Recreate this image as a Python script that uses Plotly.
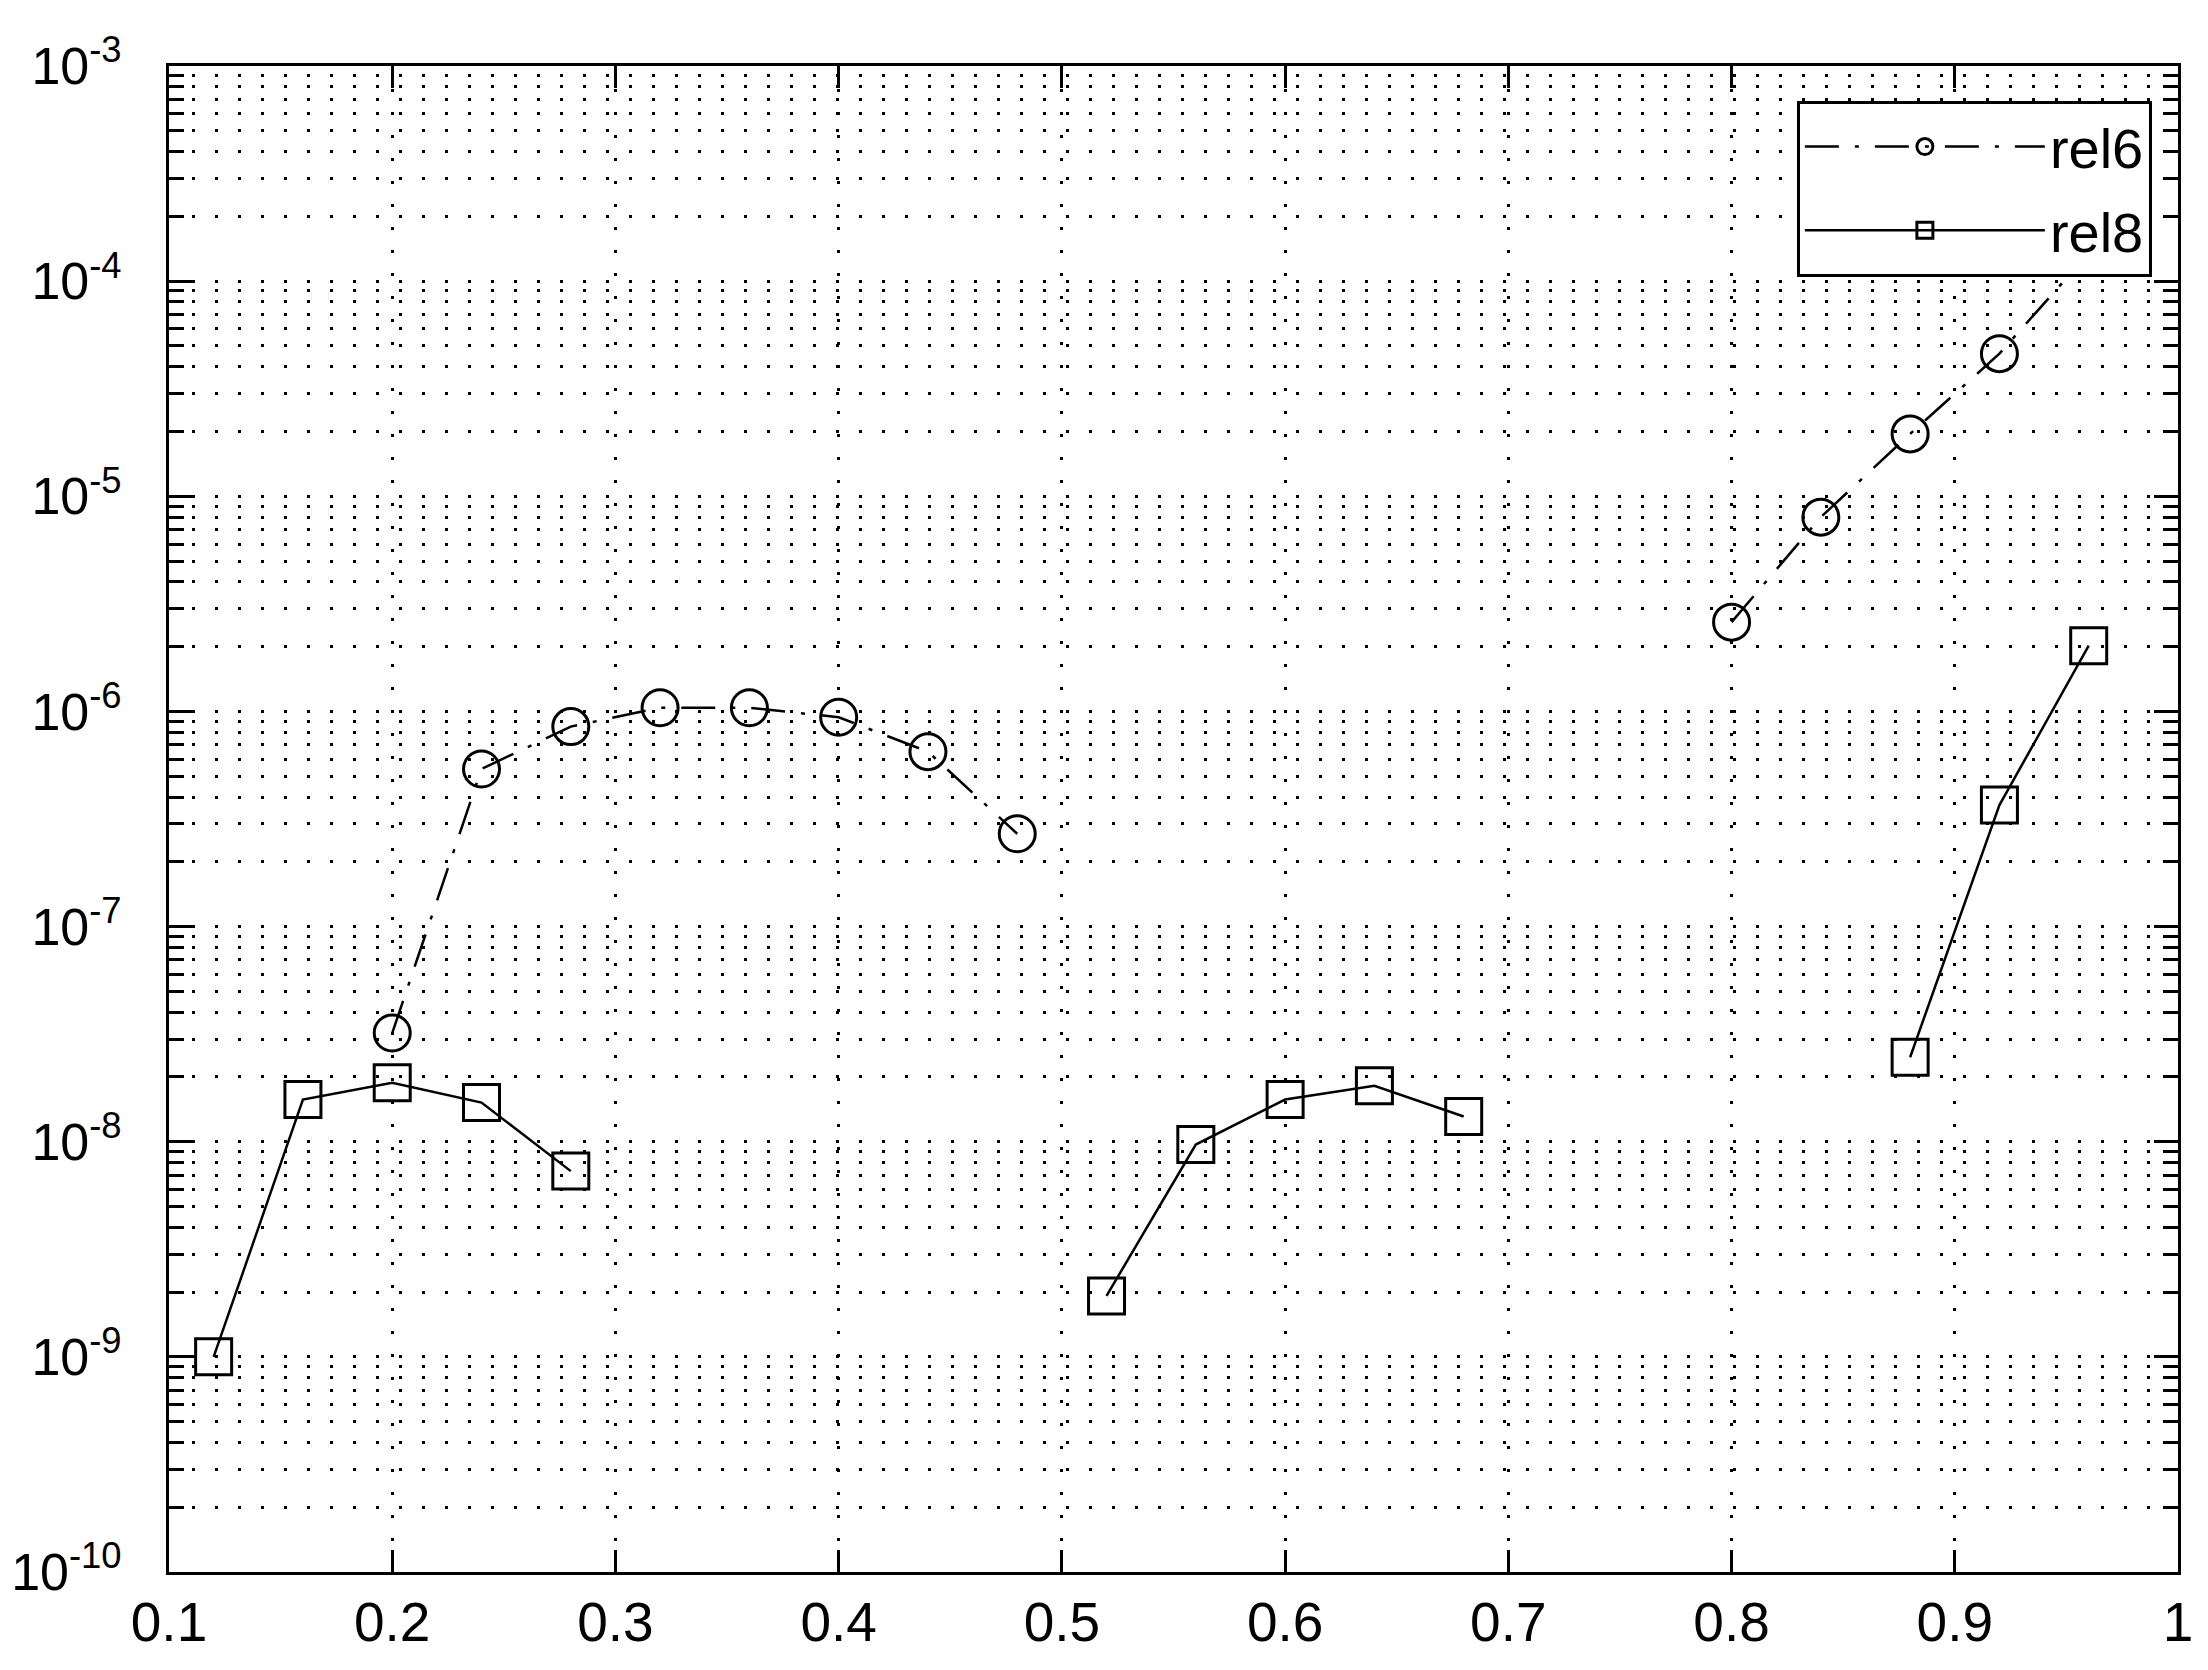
import plotly.graph_objects as go

x_vals = [0.12, 0.16, 0.20, 0.24, 0.28, 0.32, 0.36, 0.40, 0.44, 0.48, 0.52,
          0.56, 0.60, 0.64, 0.68, 0.72, 0.76, 0.80, 0.84, 0.88, 0.92, 0.96]
rel6 = [None, None, 3.2e-8, 5.4e-7, 8.5e-7, 1.04e-6, 1.04e-6, 9.4e-7, 6.5e-7, 2.7e-7,
        None, None, None, None, None, None, None,
        2.6e-6, 8.0e-6, 1.95e-5, 4.6e-5, 1.35e-4]
rel8 = [1.0e-9, 1.57e-8, 1.88e-8, 1.52e-8, 7.3e-9,
        None, None, None, None, None,
        1.92e-9, 9.7e-9, 1.57e-8, 1.82e-8, 1.31e-8,
        None, None, None, None,
        2.47e-8, 3.67e-7, 2.02e-6]

x_ticks = [0.1, 0.2, 0.3, 0.4, 0.5, 0.6, 0.7, 0.8, 0.9, 1.0]
x_ticktext = ["0.1", "0.2", "0.3", "0.4", "0.5", "0.6", "0.7", "0.8", "0.9", "1"]
y_exps = [-10, -9, -8, -7, -6, -5, -4, -3]
y_ticks = [10.0 ** e for e in y_exps]
y_ticktext = ["10<sup>%d</sup>" % e for e in y_exps]

FONT = "Arial, Liberation Sans, sans-serif"
DOTS = "3px,20px"

fig = go.Figure()
fig.add_trace(go.Scatter(
    x=x_vals, y=rel6, name="rel6", mode="lines+markers", legendgroup="a",
    line=dict(color="black", width=2.5, dash="34px,16px,4px,16px"),
    marker=dict(symbol="circle-open", size=36, color="black", line=dict(width=3, color="black")),
    connectgaps=False,
))
fig.add_trace(go.Scatter(
    x=x_vals, y=rel8, name="rel8", mode="lines+markers", legendgroup="b",
    line=dict(color="black", width=2.5),
    marker=dict(symbol="square-open", size=36, color="black", line=dict(width=3, color="black")),
    connectgaps=False,
))

# page body has an 8px default margin, so the figure is 8px smaller on each side
fig.update_layout(
    width=2200, height=1662,
    margin=dict(l=161, r=30, t=58, b=98, autoexpand=False),
    paper_bgcolor="white", plot_bgcolor="white",
    font=dict(family=FONT, size=50, color="black"),
    showlegend=True,
    legend=dict(
        x=0.987, y=0.977, xanchor="right", yanchor="top",
        bgcolor="white", bordercolor="black", borderwidth=3,
        font=dict(family=FONT, size=56, color="black"),
        itemwidth=240, tracegroupgap=8,
    ),
)

fig.update_xaxes(
    range=[0.1, 1.0], tickmode="array", tickvals=x_ticks, ticktext=x_ticktext,
    showline=True, linecolor="black", linewidth=3, mirror="ticks",
    ticks="inside", ticklen=22, tickwidth=3, tickcolor="black",
    showgrid=True, gridcolor="black", gridwidth=2.8, griddash=DOTS,
    zeroline=False, ticklabelstandoff=0, automargin=False,
    tickfont=dict(family=FONT, size=55, color="black"),
)
fig.update_yaxes(
    type="log", range=[-10, -3], tickmode="array", tickvals=y_ticks, ticktext=y_ticktext,
    showline=True, linecolor="black", linewidth=3, mirror="ticks",
    ticks="inside", ticklen=24, tickwidth=3, tickcolor="black",
    showgrid=True, gridcolor="black", gridwidth=2.8, griddash=DOTS,
    zeroline=False, ticklabelstandoff=34, automargin=False,
    tickfont=dict(family=FONT, size=52, color="black"),
    minor=dict(dtick="D1", ticks="inside", ticklen=15, tickwidth=3, tickcolor="black",
               showgrid=True, gridcolor="black", gridwidth=2.8, griddash=DOTS),
)

fig.write_html("out.html")
